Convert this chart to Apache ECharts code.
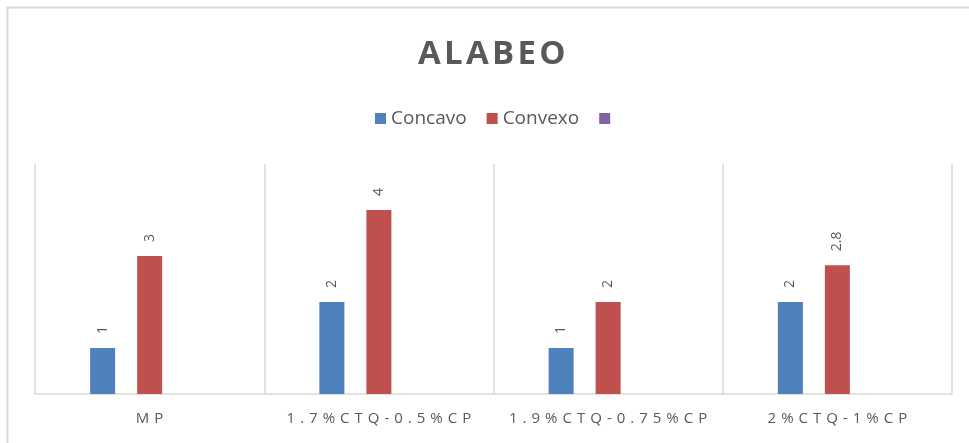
<!DOCTYPE html>
<html>
<head>
<meta charset="utf-8">
<style>
  html, body { margin: 0; padding: 0; background: #fff; }
  #chart { width: 969px; height: 443px; }
</style>
<script src="https://cdn.jsdelivr.net/npm/echarts@6/dist/echarts.min.js"></script>
</head>
<body>
<div id="chart"></div>
<script>
// Warping results per mix
const categories = ['MP', '1.7%CTQ-0.5%CP', '1.9%CTQ-0.75%CP', '2%CTQ-1%CP'];
const concavo = [1, 2, 1, 2];
const convexo = [3, 4, 2, 2.8];
const extra = [null, null, null, null];

const FONT = '"Open Sans", "Noto Sans", sans-serif';
const GRAY = '#595959';
const LINE = '#D9D9D9';

// Spread the letters of a label apart
const spaced = (s, gap) => s.split('').join(gap);

const chart = echarts.init(document.getElementById('chart'));

const barLabel = {
  show: true,
  position: 'top',
  rotate: 90,
  align: 'left',
  verticalAlign: 'middle',
  distance: 14,
  color: GRAY,
  fontSize: 14,
  fontFamily: FONT
};

chart.setOption({
  animation: false,
  backgroundColor: '#fff',
  title: {
    text: spaced('ALABEO', '\u200A'),
    left: 413,
    top: 33,
    textStyle: { color: GRAY, fontSize: 33, fontWeight: 'bold', fontFamily: FONT }
  },
  legend: {
    top: 104,
    left: 370,
    itemWidth: 11,
    itemHeight: 11,
    itemGap: 20,
    icon: 'rect',
    textStyle: { color: GRAY, fontSize: 19, fontFamily: FONT },
    data: ['Concavo', 'Convexo', ' ']
  },
  grid: { left: 35, right: 17, top: 164, bottom: 49 },
  xAxis: {
    type: 'category',
    data: categories,
    axisLine: { lineStyle: { color: LINE, width: 1.5 } },
    axisTick: { show: false },
    splitLine: { show: true, interval: 0, lineStyle: { color: LINE, width: 1.5 } },
    axisLabel: {
      interval: 0,
      margin: 17,
      color: GRAY,
      fontSize: 15,
      fontFamily: FONT,
      formatter: v => spaced(v, '\u2004')
    }
  },
  yAxis: {
    type: 'value',
    min: 0,
    max: 5,
    show: false
  },
  series: [
    {
      name: 'Concavo', type: 'bar', data: concavo,
      barWidth: 25, barGap: '88%',
      itemStyle: { color: '#4F81BD' },
      label: barLabel
    },
    {
      name: 'Convexo', type: 'bar', data: convexo,
      barWidth: 25, barGap: '88%',
      itemStyle: { color: '#C0504D' },
      label: barLabel
    },
    {
      name: ' ', type: 'bar', data: extra,
      barWidth: 25, barGap: '88%',
      itemStyle: { color: '#8064A2' },
      label: barLabel
    }
  ],
  graphic: [{
    type: 'rect',
    silent: true,
    shape: { x: 7.5, y: 7.5, width: 980, height: 460 },
    style: { fill: 'none', stroke: LINE, lineWidth: 2 }
  }]
});
</script>
</body>
</html>
